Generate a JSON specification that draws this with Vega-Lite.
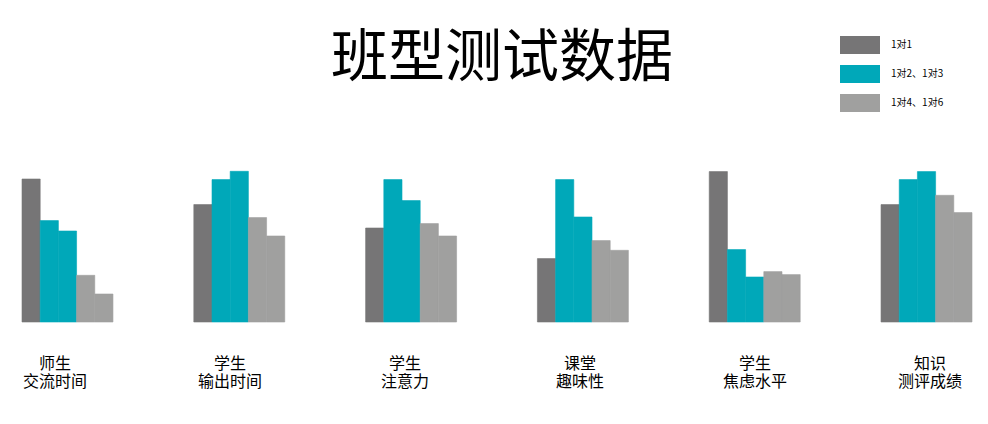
{
  "$schema": "https://vega.github.io/schema/vega-lite/v6.json",
  "width": 950,
  "height": 160,
  "autosize": {"type": "none"},
  "padding": {"left": 22, "top": 162, "right": 16, "bottom": 102},
  "background": "white",
  "title": {
    "text": "班型测试数据",
    "font": "Noto Sans CJK SC",
    "fontSize": 57,
    "fontWeight": "normal",
    "color": "#000000",
    "anchor": "middle",
    "frame": "group",
    "baseline": "bottom",
    "offset": -120,
    "dx": 5
  },
  "config": {"view": {"stroke": null}, "font": "Noto Sans CJK SC"},
  "data": {
    "values": [
      {"group": "师生|交流时间", "bar": "1对1", "type": "1对1", "value": 143},
      {"group": "师生|交流时间", "bar": "1对2", "type": "1对2、1对3", "value": 101.4},
      {"group": "师生|交流时间", "bar": "1对3", "type": "1对2、1对3", "value": 91},
      {"group": "师生|交流时间", "bar": "1对4", "type": "1对4、1对6", "value": 46.7},
      {"group": "师生|交流时间", "bar": "1对6", "type": "1对4、1对6", "value": 28},
      {"group": "学生|输出时间", "bar": "1对1", "type": "1对1", "value": 117.4},
      {"group": "学生|输出时间", "bar": "1对2", "type": "1对2、1对3", "value": 142.4},
      {"group": "学生|输出时间", "bar": "1对3", "type": "1对2、1对3", "value": 150.7},
      {"group": "学生|输出时间", "bar": "1对4", "type": "1对4、1对6", "value": 104.4},
      {"group": "学生|输出时间", "bar": "1对6", "type": "1对4、1对6", "value": 86},
      {"group": "学生|注意力", "bar": "1对1", "type": "1对1", "value": 94},
      {"group": "学生|注意力", "bar": "1对2", "type": "1对2、1对3", "value": 142.4},
      {"group": "学生|注意力", "bar": "1对3", "type": "1对2、1对3", "value": 121.4},
      {"group": "学生|注意力", "bar": "1对4", "type": "1对4、1对6", "value": 98.4},
      {"group": "学生|注意力", "bar": "1对6", "type": "1对4、1对6", "value": 86},
      {"group": "课堂|趣味性", "bar": "1对1", "type": "1对1", "value": 63.4},
      {"group": "课堂|趣味性", "bar": "1对2", "type": "1对2、1对3", "value": 142.4},
      {"group": "课堂|趣味性", "bar": "1对3", "type": "1对2、1对3", "value": 105},
      {"group": "课堂|趣味性", "bar": "1对4", "type": "1对4、1对6", "value": 81.4},
      {"group": "课堂|趣味性", "bar": "1对6", "type": "1对4、1对6", "value": 71.7},
      {"group": "学生|焦虑水平", "bar": "1对1", "type": "1对1", "value": 150.4},
      {"group": "学生|焦虑水平", "bar": "1对2", "type": "1对2、1对3", "value": 72.4},
      {"group": "学生|焦虑水平", "bar": "1对3", "type": "1对2、1对3", "value": 45},
      {"group": "学生|焦虑水平", "bar": "1对4", "type": "1对4、1对6", "value": 50.4},
      {"group": "学生|焦虑水平", "bar": "1对6", "type": "1对4、1对6", "value": 47.4},
      {"group": "知识|测评成绩", "bar": "1对1", "type": "1对1", "value": 117.4},
      {"group": "知识|测评成绩", "bar": "1对2", "type": "1对2、1对3", "value": 142.4},
      {"group": "知识|测评成绩", "bar": "1对3", "type": "1对2、1对3", "value": 150.4},
      {"group": "知识|测评成绩", "bar": "1对4", "type": "1对4、1对6", "value": 126.7},
      {"group": "知识|测评成绩", "bar": "1对6", "type": "1对4、1对6", "value": 109.4}
    ]
  },
  "layer": [
    {
      "mark": {"type": "bar", "strokeWidth": 0.6},
      "encoding": {
        "x": {
          "field": "group",
          "type": "nominal",
          "sort": null,
          "axis": null,
          "scale": {"paddingInner": 0.4705, "paddingOuter": 0}
        },
        "xOffset": {
          "field": "bar",
          "type": "nominal",
          "sort": null,
          "scale": {"paddingInner": 0, "paddingOuter": 0}
        },
        "y": {
          "field": "value",
          "type": "quantitative",
          "axis": null,
          "scale": {"domain": [0, 160]}
        },
        "stroke": {
          "field": "type",
          "type": "nominal",
          "sort": null,
          "scale": {
            "domain": ["1对1", "1对2、1对3", "1对4、1对6"],
            "range": ["#767576", "#00A8B9", "#A0A09F"]
          },
          "legend": null
        },
        "color": {
          "field": "type",
          "type": "nominal",
          "sort": null,
          "scale": {
            "domain": ["1对1", "1对2、1对3", "1对4、1对6"],
            "range": ["#767576", "#00A8B9", "#A0A09F"]
          },
          "legend": {
            "orient": "none",
            "legendX": 818,
            "legendY": -137,
            "title": null,
            "padding": 0,
            "symbolType": "M-1,-0.45H1V0.45H-1Z",
            "symbolSize": 1600,
            "symbolStrokeWidth": 0,
            "symbolOpacity": 1,
            "labelFont": "Noto Sans CJK SC",
            "labelFontSize": 10,
            "labelColor": "#000000",
            "labelOffset": 11,
            "rowPadding": -16
          }
        }
      }
    },
    {
      "mark": {"type": "text", "text": "", "opacity": 0},
      "encoding": {
        "x": {
          "field": "group",
          "type": "nominal",
          "sort": null,
          "scale": {"type": "point", "padding": 0.215},
          "axis": {
            "orient": "bottom",
            "title": null,
            "domain": false,
            "ticks": false,
            "grid": false,
            "labelPadding": 33,
            "labelAngle": 0,
            "labelFont": "Noto Sans CJK SC",
            "labelFontSize": 16,
            "labelColor": "#000000",
            "labelLineHeight": 18,
            "labelOffset": -5,
            "labelExpr": "split(datum.label, '|')"
          }
        }
      }
    }
  ],
  "resolve": {"scale": {"x": "independent"}, "axis": {"x": "independent"}}
}
